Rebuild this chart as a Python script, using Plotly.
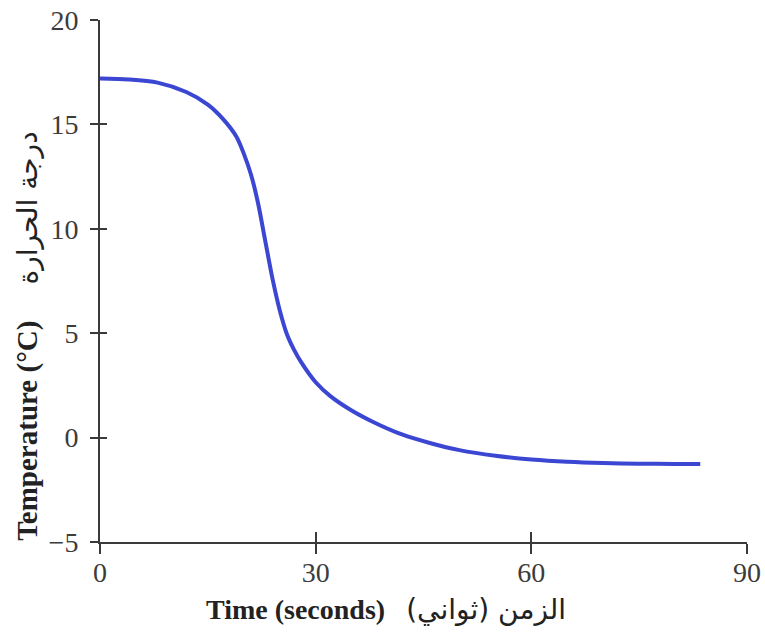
import plotly.graph_objects as go

# Data
time_s = [0, 4, 8, 12, 15, 17, 19, 20, 21, 22, 23, 24, 25, 26, 27, 28, 30, 32,
          35, 38, 42, 46, 50, 55, 60, 65, 70, 75, 80, 83.5]
temp_c = [17.2, 17.15, 17.0, 16.55, 15.95, 15.3, 14.4, 13.6, 12.6, 11.2, 9.4,
          7.6, 6.1, 4.95, 4.2, 3.6, 2.65, 2.0, 1.3, 0.75, 0.15, -0.27, -0.6,
          -0.87, -1.05, -1.16, -1.22, -1.25, -1.26, -1.26]

x_ticks = [0, 30, 60, 90]
y_ticks = [-5, 0, 5, 10, 15, 20]
y_tick_text = ["\u22125", "0", "5", "10", "15", "20"]

GAP = "\u00a0\u00a0\u00a0"
x_title = ("<b>Time (seconds)</b>" + GAP + "<span style=\"font-family:'DejaVu Sans'\">"
           "\u0627\u0644\u0632\u0645\u0646 (\u062b\u0648\u0627\u0646\u064a)\u200f</span>")
y_title = ("<b>Temperature (°C)</b>" + GAP + "\u00a0\u00a0<span style=\"font-family:'DejaVu Sans';font-size:28px\">"
           "\u062f\u0631\u062c\u0629 \u0627\u0644\u062d\u0631\u0627\u0631\u0629</span>")

AX = "#3a3a3a"
FONT = "Liberation Serif"

fig = go.Figure()
fig.add_trace(go.Scatter(
    x=time_s, y=temp_c, mode="lines",
    line=dict(color="#3b46d2", width=4, shape="spline", smoothing=0.8),
    showlegend=False, hoverinfo="skip",
))
# invisible trace to activate overlay axes (for crossing tick marks)
fig.add_trace(go.Scatter(
    x=time_s, y=temp_c, mode="lines", xaxis="x2", yaxis="y2",
    line=dict(width=0), opacity=0, showlegend=False, hoverinfo="skip",
))

fig.update_layout(
    width=765, height=634,
    margin=dict(l=100, r=18, t=20, b=92, autoexpand=False),
    plot_bgcolor="white", paper_bgcolor="white",
    font=dict(family=FONT, color="#3c3c3c"),
    xaxis=dict(
        range=[0, 90], tickvals=x_ticks, ticks="outside", ticklen=10,
        tickwidth=2, tickcolor=AX, showline=True, linecolor=AX, linewidth=2,
        showgrid=False, zeroline=False, tickfont=dict(size=28, family=FONT),
        automargin=False, ticklabeloverflow="allow", ticklabelstandoff=-6,
    ),
    yaxis=dict(
        range=[-5, 20], tickvals=y_ticks, ticktext=y_tick_text, ticks="outside",
        ticklen=8, tickwidth=2, tickcolor=AX, showline=True, linecolor=AX,
        linewidth=2, showgrid=False, zeroline=False,
        tickfont=dict(size=28, family=FONT), automargin=False,
        ticklabeloverflow="allow", ticklabelstandoff=6,
    ),
    xaxis2=dict(
        range=[0, 90], tickvals=x_ticks, ticks="inside", ticklen=10,
        tickwidth=2, tickcolor=AX, showticklabels=False, showline=False,
        showgrid=False, zeroline=False, overlaying="x", side="bottom",
        anchor="y2", automargin=False,
    ),
    yaxis2=dict(
        range=[-5, 20], tickvals=y_ticks, ticks="inside", ticklen=7,
        tickwidth=2, tickcolor=AX, showticklabels=False, showline=False,
        showgrid=False, zeroline=False, overlaying="y", side="left",
        anchor="x2", automargin=False,
    ),
    annotations=[
        dict(text=x_title, xref="paper", yref="paper", x=0.442, y=0,
             yshift=-67, xanchor="center", yanchor="middle", showarrow=False,
             font=dict(size=28, family=FONT, color="#222222")),
        dict(text=y_title, xref="paper", yref="paper", x=0, y=0.393,
             xshift=-72, xanchor="center", yanchor="middle", showarrow=False,
             textangle=-90,
             font=dict(size=29, family=FONT, color="#222222")),
    ],
)

fig.write_html(
    "out.html",
    config={"displayModeBar": False},
    post_script="document.body.style.margin='0';document.body.style.overflow='hidden';",
)
